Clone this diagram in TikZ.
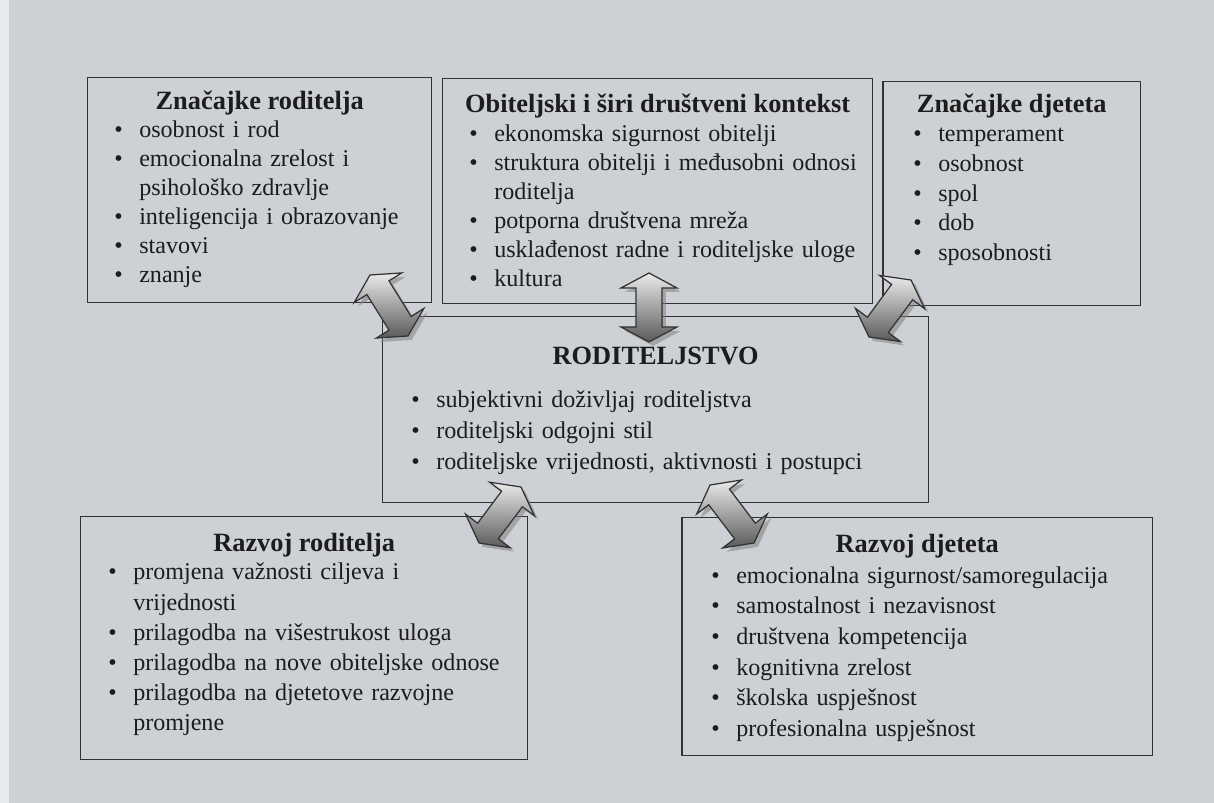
\documentclass[tikz,border=0pt]{standalone}
\usepackage{fontspec}
\setmainfont{Liberation Serif}
\usetikzlibrary{calc,shadows}

\definecolor{pozadina}{RGB}{205,208,212}
\definecolor{rub}{RGB}{232,233,236}
\definecolor{crta}{RGB}{50,50,50}
\definecolor{tekst}{RGB}{28,28,28}

\hyphenpenalty=10000
\newlength{\uvlaka}\setlength{\uvlaka}{14.2pt}
\newcommand{\stavka}[1]{\hangindent=\uvlaka\hangafter=1\noindent\makebox[\uvlaka][l]{\textbullet}#1\par}

\def\glava{0.3cm}\def\krilo{0.56cm}\def\trup{0.26cm}
\newcommand{\dvostrelica}[2]{%
  \draw[strelica] (#1) -- ($(#1)!\glava!(#2)!\krilo!90:(#2)$) -- ($(#1)!\glava!(#2)!\trup!90:(#2)$)
    -- ($(#2)!\glava!(#1)!\trup!-90:(#1)$) -- ($(#2)!\glava!(#1)!\krilo!-90:(#1)$) -- (#2)
    -- ($(#2)!\glava!(#1)!\krilo!90:(#1)$) -- ($(#2)!\glava!(#1)!\trup!90:(#1)$)
    -- ($(#1)!\glava!(#2)!\trup!-90:(#2)$) -- ($(#1)!\glava!(#2)!\krilo!-90:(#2)$) -- cycle;}

\tikzset{
  okvir/.style={draw=crta, line width=0.85pt, anchor=north west, inner sep=0pt},
  naslov/.style={anchor=base, text=tekst, font=\fontsize{15}{18}\selectfont\bfseries},
  popis/.style={anchor=base west, inner sep=0pt, text width=11cm, align=left, text=tekst,
    font=\fontsize{13.7}{#1}\selectfont},
  strelica/.style={draw=crta, line width=0.7pt, top color=black!8, bottom color=black!65,
    drop shadow={opacity=0.55, shadow xshift=2.2pt, shadow yshift=-2.2pt}}
}

\begin{document}
\begin{tikzpicture}[x=0.02cm, y=-0.02cm]
  \useasboundingbox (0,0) rectangle (1214,803);
  \fill[pozadina] (0,0) rectangle (1214,803);
  \fill[rub] (0,0) rectangle (9,803);

  % okviri
  \node[okvir, minimum width=6.88cm, minimum height=4.5cm] (zr) at (87,77) {};
  \node[okvir, minimum width=8.6cm, minimum height=4.5cm] (ok) at (442,78) {};
  \node[okvir, minimum width=5.16cm, minimum height=4.48cm] (zd) at (882,81) {};
  \node[okvir, minimum width=10.92cm, minimum height=3.72cm] (rs) at (382,316) {};
  \node[okvir, minimum width=8.94cm, minimum height=4.86cm] (rr) at (80,516) {};
  \node[okvir, minimum width=9.42cm, minimum height=4.76cm] (rd) at (681,517) {};

  % naslovi
  \node[naslov] (zrn) at ($(zr.north)+(0,33)$) {Značajke roditelja};
  \node[naslov] (okn) at ($(ok.north)+(0,35)$) {Obiteljski i širi društveni kontekst};
  \node[naslov] (zdn) at ($(zd.north)+(0,32)$) {Značajke djeteta};
  \node[naslov] (rsn) at ($(rs.north)+(0,49)$) {RODITELJSTVO};
  \node[naslov] (rrn) at ($(rr.north)+(0,36)$) {Razvoj roditelja};
  \node[naslov] (rdn) at ($(rd.north)+(0,36)$) {Razvoj djeteta};

  % stavke
  \node[popis=16.5pt] (zrp) at ($(zr.north west)+(27,61)$) {%
    \stavka{osobnost i rod}
    \stavka{emocionalna zrelost i\newline psihološko zdravlje}
    \stavka{inteligencija i obrazovanje}
    \stavka{stavovi}
    \stavka{znanje}};
  \node[popis=16.4pt] (okp) at ($(ok.north west)+(27,64)$) {%
    \stavka{ekonomska sigurnost obitelji}
    \stavka{struktura obitelji i međusobni odnosi\newline roditelja}
    \stavka{potporna društvena mreža}
    \stavka{usklađenost radne i roditeljske uloge}
    \stavka{kultura}};
  \node[popis=16.8pt] (zdp) at ($(zd.north west)+(31,61)$) {%
    \stavka{temperament}
    \stavka{osobnost}
    \stavka{spol}
    \stavka{dob}
    \stavka{sposobnosti}};
  \node[popis=17.6pt] (rsp) at ($(rs.north west)+(29,92)$) {%
    \stavka{subjektivni doživljaj roditeljstva}
    \stavka{roditeljski odgojni stil}
    \stavka{roditeljske vrijednosti, aktivnosti i postupci}};
  \node[popis=17.1pt] (rrp) at ($(rr.north west)+(28,64)$) {%
    \stavka{promjena važnosti ciljeva i\newline vrijednosti}
    \stavka{prilagodba na višestrukost uloga}
    \stavka{prilagodba na nove obiteljske odnose}
    \stavka{prilagodba na djetetove razvojne\newline promjene}};
  \node[popis=17.5pt] (rdp) at ($(rd.north west)+(30,66)$) {%
    \stavka{emocionalna sigurnost/samoregulacija}
    \stavka{samostalnost i nezavisnost}
    \stavka{društvena kompetencija}
    \stavka{kognitivna zrelost}
    \stavka{školska uspješnost}
    \stavka{profesionalna uspješnost}};

  % strelice
  \coordinate (s1a) at (370,275); \coordinate (s1b) at (408,336);
  \coordinate (s2a) at (649,273); \coordinate (s2b) at (649,342);
  \coordinate (s3a) at (911,280); \coordinate (s3b) at (869,337);
  \coordinate (s4a) at (521,487); \coordinate (s4b) at (479,543);
  \coordinate (s5a) at (710,485); \coordinate (s5b) at (754,543);
  \dvostrelica{s1a}{s1b}
  \dvostrelica{s2a}{s2b}
  \dvostrelica{s3a}{s3b}
  \dvostrelica{s4a}{s4b}
  \dvostrelica{s5a}{s5b}
\end{tikzpicture}
\end{document}
